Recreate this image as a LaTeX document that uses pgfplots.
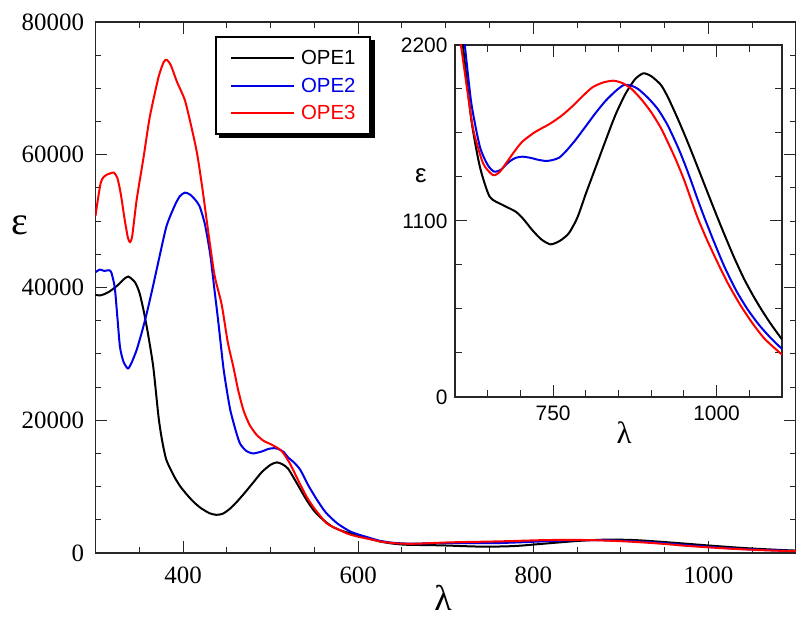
\documentclass[border=0pt]{standalone}
\usepackage{fontspec}
\setmainfont{Liberation Serif}
\newfontfamily\arial{Liberation Sans}
\usepackage{pgfplots}
\usepackage{pgfplotstable}
\pgfplotsset{compat=1.18}

\pgfplotstableread{
x y
300 38900
305 38800
310 39000
316 39400
325 40300
332 41200
337.5 41650
345 40800
350 39300
355 36500
360 33000
366 28000
372 20500
376 17000
381 14000
390 11500
397 10000
405 8700
412 7700
420 6800
430 6000
438 5750
445 5900
452 6500
460 7500
470 9000
480 10600
490 12200
500 13300
507 13650
513 13400
520 12700
530 10500
541 8000
550 6300
560 5000
570 4000
580 3400
591 2950
600 2600
612 2200
625 1731
638 1440
653 1252
673 1200
693 1158
705 1110
718 1044
732 985
746 954
760 975
774 1023
787 1120
800 1270
810 1380
820 1490
830 1600
845 1760
860 1890
875 1985
888 2023
900 2005
915 1950
926 1870
940 1745
951 1640
961 1540
975 1395
986 1280
1001.5 1120
1014 995
1027 870
1042 738
1057 625
1070 537
1082 462
1091 410
1100 360
}\opeone

\pgfplotstableread{
x y
300 42300
305 42700
310 42500
315 42600
318 42300
322 40000
325 35500
328 31000
332 28800
337 27800
341 28600
347 30600
353 33300
358.5 36100
365 39800
372 44000
381 49200
390 52200
396 53700
402 54300
408 54000
414 53200
419 52200
425 49500
431 45000
436 39500
440 35100
446 28000
450 24500
454 21500
460 18500
465 16500
472 15400
480 15000
490 15300
498 15700
505 15800
510 15600
515 15200
520 14400
527 13600
534 12500
543 10200
553 8000
563 6100
576 4475
590 3300
600 2800
610 2400
615 2200
625 1835
638 1565
650 1450
660 1408
670 1420
683 1471
693 1495
703 1502
715 1495
729 1481
740 1475
749 1481
759 1495
769 1533
784 1605
795 1665
805 1720
815 1775
830 1850
845 1910
858 1950
870 1945
880 1925
895 1870
910 1800
925 1700
941 1560
951 1460
961 1350
971 1235
981 1125
996 970
1012 814
1030 665
1047 550
1065 450
1082 372
1100 300
}\opetwo

\pgfplotstableread{
x y
300 50800
303 53500
306 55800
309 56600
313 57000
317 57200
321 57300
325 56500
329 54000
333 50500
337 47500
339.5 46850
342 47800
347 53200
355 59700
362 65700
372 71700
378 74000
381.5 74300
386 73500
393 71000
402 68250
409 64500
416 60200
422 55000
429 48170
436 41800
444 37500
451 31800
457.5 28000
463 24500
469 21500
476 19300
484 17800
492 16900
500 16400
507 15900
513 15300
522 13500
532 10800
541 8500
550 6700
564 4475
575 3700
588 2900
600 2450
609 2200
618 1940
628 1669
643 1460
658 1387
668 1405
678 1460
690 1530
703 1596
722 1655
744 1705
762 1755
779 1815
795 1880
810 1935
826 1965
842 1977
856 1962
870 1925
885 1860
900 1780
915 1680
928 1570
938 1480
950 1360
960 1245
971 1120
985 985
1001.5 840
1018 705
1037 570
1055 460
1072 370
1086 315
1100 265
}\opethree

\definecolor{ored}{RGB}{255,0,0}
\definecolor{oblue}{RGB}{0,0,230}

\begin{document}
\begin{tikzpicture}
% legend shadow
\fill[black] (123.5bp,415bp) rectangle (279.5bp,513bp);
\begin{axis}[
  at={(0bp,0bp)}, anchor=south west, scale only axis,
  width=700.5bp, height=531bp,
  xmin=300, xmax=1100, ymin=0, ymax=80000,
  xtick={400,600,800,1000},
  minor xtick={300,350,...,1100},
  ytick={0,20000,40000,60000,80000},
  minor ytick={5000,10000,...,75000},
  scaled ticks=false,
  tick align=inside,
  major tick length=12bp, minor tick length=6bp,
  axis line style={line width=1.2bp, black!85},
  every tick/.style={line width=1bp, black!85},
  /pgf/number format/.cd, 1000 sep={}, assume math mode=true, /pgfplots/.cd,
  tick label style={font=\fontsize{25}{25}\selectfont},
  xticklabel style={yshift=-10bp},
  yticklabel style={xshift=-8bp},
  no marks,
  legend cell align=left,
  legend image code/.code={\draw[#1] (0bp,0bp) -- (63bp,0bp);},
  legend style={at={(0.1706,0.9736)}, anchor=north west, draw=black,
    line width=2bp, fill=white, inner xsep=14bp, inner ysep=12bp,
    row sep=10bp, column sep=5bp,
    font=\arial\fontsize{20.5}{20.5}\selectfont,
    nodes={inner sep=1bp}},
]
\addplot[black, line width=2bp, smooth, tension=0.4] table[x=x,y=y] {\opeone};
\addlegendentry{OPE1}
\addplot[oblue, line width=2bp, smooth, tension=0.4] table[x=x,y=y] {\opetwo};
\addlegendentry{\textcolor{oblue}{OPE2}}
\addplot[ored, line width=2bp, smooth, tension=0.4] table[x=x,y=y] {\opethree};
\addlegendentry{\textcolor{ored}{OPE3}}
\end{axis}
\node[font=\fontsize{40}{40}\selectfont] at (-75.5bp,328bp) {ε};
\node[font=\fontsize{36}{36}\selectfont] at (347.5bp,-45bp) {λ};

\begin{axis}[
  at={(359.5bp,156bp)}, anchor=south west, scale only axis,
  width=327bp, height=352bp,
  xmin=600, xmax=1100, ymin=0, ymax=2200,
  xtick={750,1000},
  minor xtick={650,700,800,850,900,950,1050},
  ytick={0,1100,2200},
  minor ytick={275,550,825,1375,1650,1925},
  scaled ticks=false,
  tick align=inside,
  major tick length=12bp, minor tick length=7bp,
  axis background/.style={fill=white},
  axis line style={line width=1.2bp, black!85},
  every tick/.style={line width=1bp, black!85},
  /pgf/number format/.cd, 1000 sep={}, assume math mode=true, /pgfplots/.cd,
  tick label style={font=\arial\fontsize{21}{21}\selectfont},
  xticklabel style={yshift=-5bp},
  yticklabel style={xshift=-4bp},
  no marks,
  restrict x to domain=580:1100,
]
\addplot[black, line width=2bp, smooth, tension=0.4] table[x=x,y=y] {\opeone};
\addplot[oblue, line width=2bp, smooth, tension=0.4] table[x=x,y=y] {\opetwo};
\addplot[ored, line width=2bp, smooth, tension=0.4] table[x=x,y=y] {\opethree};
\end{axis}
\node[font=\arial\fontsize{26}{26}\selectfont] at (325.5bp,377bp) {ε};
\node[font=\fontsize{31}{31}\selectfont] at (528.5bp,120bp) {λ};

\pgfresetboundingbox
\useasboundingbox (-95.5bp,-64bp) rectangle (700.5bp,553bp);
\end{tikzpicture}
\end{document}
